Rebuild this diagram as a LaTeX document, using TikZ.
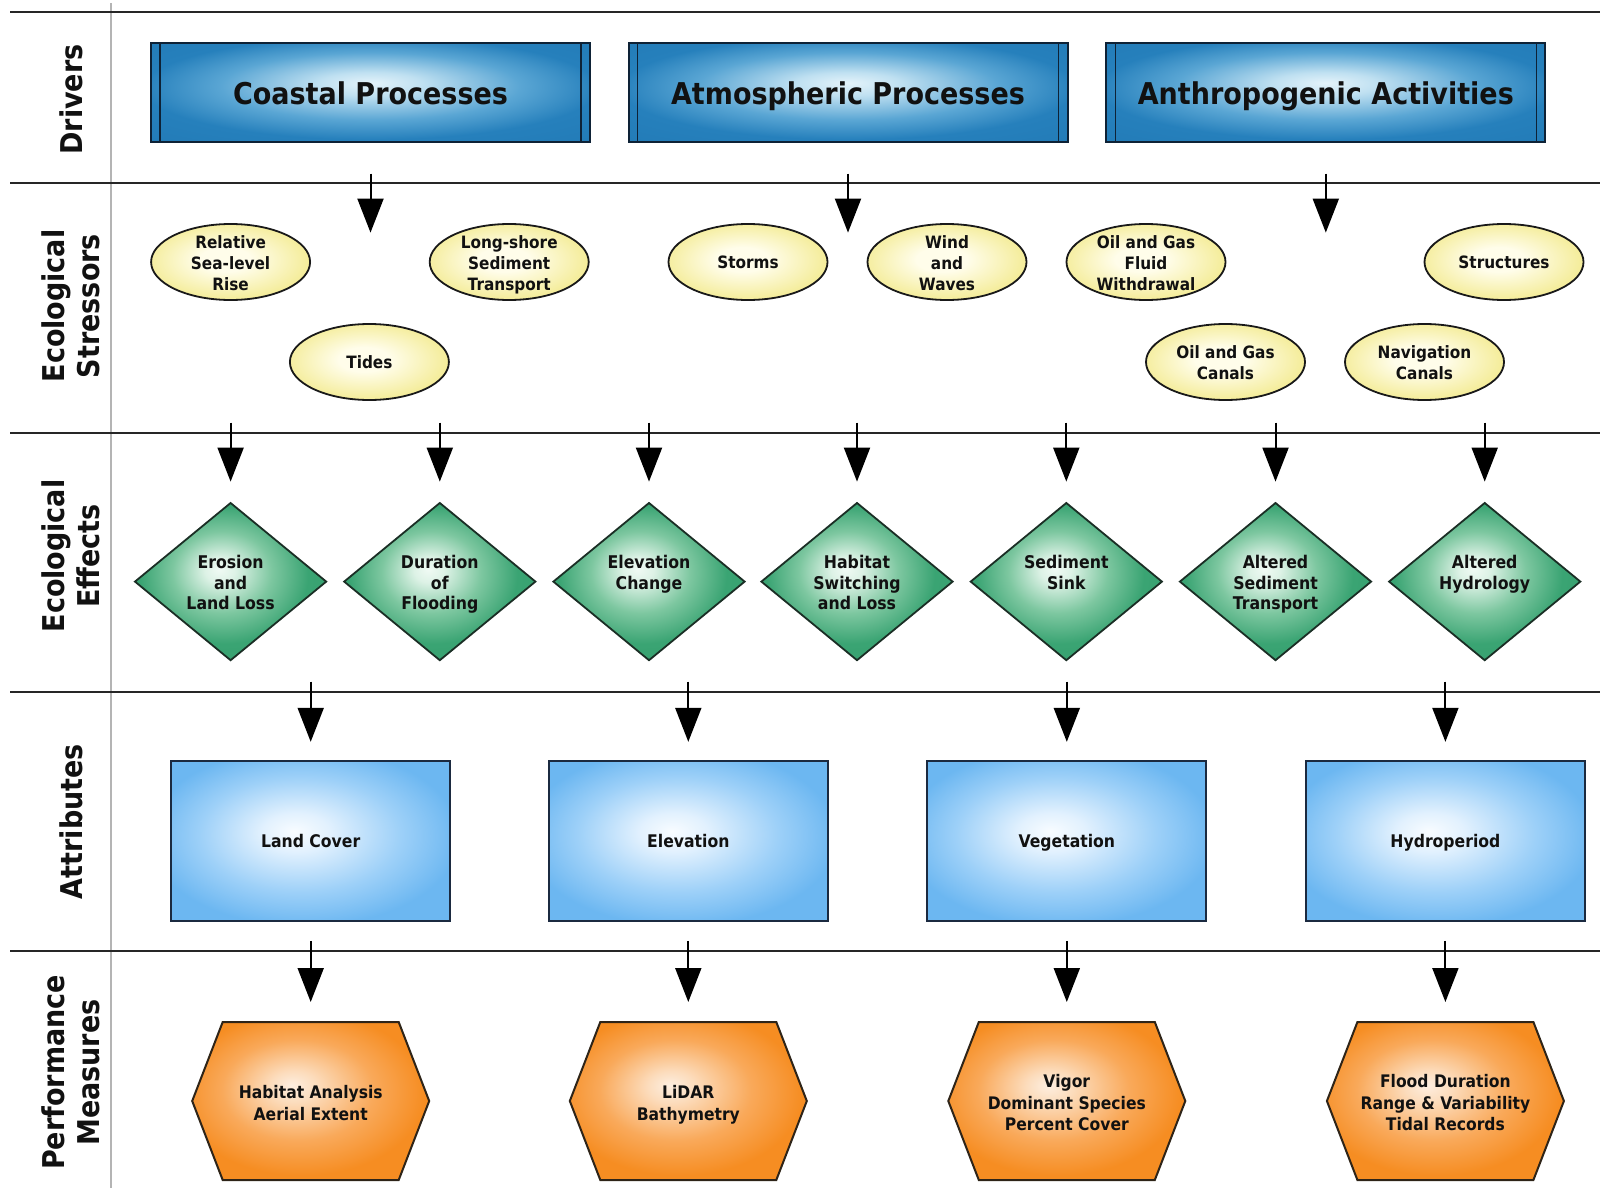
\documentclass[tikz,border=0pt]{standalone}
\usepackage{fontspec}
\setmainfont{DejaVu Sans}[FakeStretch=0.9]
\usetikzlibrary{shapes.geometric,arrows.meta}

\definecolor{txt}{HTML}{111111}
\definecolor{drvIn}{HTML}{E4F3FA}
\definecolor{drvA}{HTML}{BFE0F1}
\definecolor{drvMid}{HTML}{5AA6D4}
\definecolor{drvOut}{HTML}{2680BC}
\definecolor{drvEdge}{HTML}{1E76B2}
\definecolor{drvLine}{HTML}{0E2236}
\definecolor{ellIn}{HTML}{FFFDEA}
\definecolor{ellOut}{HTML}{F4EC98}
\definecolor{dmIn}{HTML}{F0FAF4}
\definecolor{dmA}{HTML}{DDF2E6}
\definecolor{dmMid}{HTML}{7DC7A0}
\definecolor{dmOut}{HTML}{3AA473}
\definecolor{dmEdge}{HTML}{2F9868}
\definecolor{dmLine}{HTML}{1B2E25}
\definecolor{rcIn}{HTML}{F8FCFF}
\definecolor{rcA}{HTML}{E2F1FE}
\definecolor{rcMid}{HTML}{9DD0F8}
\definecolor{rcOut}{HTML}{6CB7F1}
\definecolor{rcLine}{HTML}{1B2A40}
\definecolor{hxIn}{HTML}{FDEEE0}
\definecolor{hxA}{HTML}{FCDCBC}
\definecolor{hxMid}{HTML}{F9A95A}
\definecolor{hxOut}{HTML}{F68D22}
\definecolor{hxLine}{HTML}{2E2418}
\definecolor{sepGray}{HTML}{B4B4B4}

\pgfdeclareradialshading{drvshade}{\pgfpoint{0bp}{5bp}}{color(0bp)=(drvIn); color(6bp)=(drvA); color(17bp)=(drvMid); color(26bp)=(drvOut); color(50bp)=(drvEdge)}
\pgfdeclareradialshading{ellshade}{\pgfpoint{-2bp}{2bp}}{color(0bp)=(ellIn); color(8bp)=(ellIn); color(26bp)=(ellOut); color(50bp)=(ellOut)}
\pgfdeclareradialshading{dmshade}{\pgfpoint{-3bp}{4bp}}{color(0bp)=(dmIn); color(4bp)=(dmA); color(13bp)=(dmMid); color(22bp)=(dmOut); color(50bp)=(dmEdge)}
\pgfdeclareradialshading{rcshade}{\pgfpoint{-3bp}{3bp}}{color(0bp)=(rcIn); color(6bp)=(rcA); color(18bp)=(rcMid); color(28bp)=(rcOut); color(50bp)=(rcOut)}
\pgfdeclareradialshading{hxshade}{\pgfpoint{-4bp}{5bp}}{color(0bp)=(hxIn); color(5bp)=(hxA); color(16bp)=(hxMid); color(26bp)=(hxOut); color(50bp)=(hxOut)}

\newcommand\tup{\rule{0pt}{19pt}}
\newcommand\tuph{\rule{0pt}{21pt}}

\tikzset{
  sepline/.style={draw=black!85, line width=2pt},
  vsep/.style={draw=sepGray, line width=2pt},
  rowlbl/.style={rotate=90, align=center, text=txt, font=\fontsize{30}{35}\selectfont\bfseries, inner sep=0pt},
  driver/.style={rectangle, minimum width=439pt, minimum height=99pt, draw=drvLine, line width=2pt,
    shade, shading=drvshade, text=txt, font=\fontsize{30}{34}\selectfont\bfseries,
    text height=24pt, text depth=0pt},
  drvinner/.style={draw=drvLine, line width=1.4pt},
  stressor/.style={ellipse, minimum width=159pt, minimum height=76pt, inner xsep=0pt, inner ysep=-9pt, draw=black!90,
    line width=1.8pt, shade, shading=ellshade, align=center, text=txt, font=\fontsize{17}{21}\selectfont\bfseries,
    execute at end node={\rule[-4.1pt]{0pt}{4.1pt}}},
  single/.style={text height=12.4pt, text depth=0pt, inner ysep=0pt},
  effect/.style={diamond, aspect=1.2, minimum width=192pt, minimum height=158pt, inner sep=0pt, draw=dmLine,
    line width=1.8pt, shade, shading=dmshade, align=center, text=txt, font=\fontsize{17.5}{20.5}\selectfont\bfseries,
    execute at end node={\rule[-4.2pt]{0pt}{4.2pt}}},
  attrib/.style={rectangle, minimum width=279pt, minimum height=160pt, draw=rcLine, line width=2pt,
    shade, shading=rcshade, text=txt, font=\fontsize{17.4}{21}\selectfont\bfseries,
    text height=12.7pt, text depth=0pt},
  hexfill/.style={draw=hxLine, line width=2pt, line join=miter, shade, shading=hxshade},
  hextext/.style={align=center, inner sep=0pt, text=txt, font=\fontsize{17.3}{21.5}\selectfont\bfseries,
    execute at end node={\rule[-4.4pt]{0pt}{4.4pt}}},
  flow/.style={draw=black, line width=2pt, -{Triangle[width=26pt,length=34pt]}},
}

\newcommand\hexagonnode[3]{%
  \path[hexfill, shift={(#2)}] (-118.5,0) -- (-88,-79) -- (88,-79) -- (118.5,0) -- (88,79) -- (-88,79) -- cycle;
  \node[hextext] (#1) at (#2) {#3};
}

\begin{document}
\begin{tikzpicture}[x=1pt,y=-1pt]
\useasboundingbox (0,0) rectangle (1600,1188);

% separators
\draw[vsep] (111,3) -- (111,1188);
\draw[sepline] (10,12.5) -- (1600,12.5);
\draw[sepline] (10,182.7) -- (1600,182.7);
\draw[sepline] (10,432.6) -- (1600,432.6);
\draw[sepline] (10,691.5) -- (1600,691.5);
\draw[sepline] (10,950.5) -- (1600,950.5);

% row labels
\node[rowlbl] (lDrivers) at (71,99.5) {Drivers};
\node[rowlbl] (lStress) at (71,306) {Ecological\\Stressors};
\node[rowlbl] (lEffects) at (71,556) {Ecological\\Effects};
\node[rowlbl] (lAttr) at (71,821.5) {Attributes};
\node[rowlbl] (lPerf) at (71,1072.5) {Performance\\Measures};

% drivers
\node[driver] (cp) at (370.5,92.7) {Coastal Processes};
\node[driver] (ap) at (848,92.7) {Atmospheric Processes};
\node[driver] (aa) at (1325.8,92.7) {Anthropogenic Activities};
\foreach \n in {cp,ap,aa}{
  \draw[drvinner] ([xshift=10pt]\n.north west) -- ([xshift=10pt]\n.south west);
  \draw[drvinner] ([xshift=-10pt]\n.north east) -- ([xshift=-10pt]\n.south east);
}

% driver arrows
\coordinate (cpS) at (370.5,173.5); \coordinate (cpE) at (370.5,232.6);
\coordinate (apS) at (848,173.5);   \coordinate (apE) at (848,232.6);
\coordinate (aaS) at (1325.8,173.5);\coordinate (aaE) at (1325.8,232.6);
\draw[flow] (cpS) -- (cpE);
\draw[flow] (apS) -- (apE);
\draw[flow] (aaS) -- (aaE);

% stressors
\node[stressor] (rslr) at (230.6,262) {\tup Relative\\Sea-level\\Rise};
\node[stressor] (lsst) at (509.2,262) {\tup Long-shore\\Sediment\\Transport};
\node[stressor, single, execute at end node={}] (tides) at (369.4,362) {Tides};
\node[stressor, single, execute at end node={}] (storms) at (748,262) {Storms};
\node[stressor] (wind) at (947,262) {\tup Wind\\and\\Waves};
\node[stressor] (ogfw) at (1146,262) {\tup Oil and Gas\\Fluid\\Withdrawal};
\node[stressor, single, execute at end node={}] (struct) at (1504,262) {Structures};
\node[stressor] (ogc) at (1225.5,362) {\tup Oil and Gas\\Canals};
\node[stressor] (navc) at (1424.5,362) {\tup Navigation\\Canals};

% effects
\node[effect] (e1) at (230.6,581.6) {\tup Erosion\\and\\Land Loss};
\node[effect] (e2) at (439.8,581.6) {\tup Duration\\of\\Flooding};
\node[effect] (e3) at (649,581.6) {\tup Elevation\\Change\\\mbox{}};
\node[effect] (e4) at (857,581.6) {\tup Habitat\\Switching\\and Loss};
\node[effect] (e5) at (1066.3,581.6) {\tup Sediment\\Sink\\\mbox{}};
\node[effect] (e6) at (1275.5,581.6) {\tup Altered\\Sediment\\Transport};
\node[effect] (e7) at (1484.7,581.6) {\tup Altered\\Hydrology\\\mbox{}};

\foreach \n/\x in {e1/230.6,e2/439.8,e3/649,e4/857,e5/1066.3,e6/1275.5,e7/1484.7}{
  \coordinate (\n S) at (\x,422.5);
  \draw[flow] (\n S) -- (\n.north |- 0,481.6);
}

% attributes
\node[attrib] (lc) at (310.7,840.8) {Land Cover};
\node[attrib] (el) at (688.3,840.8) {Elevation};
\node[attrib] (vg) at (1066.8,840.8) {Vegetation};
\node[attrib] (hp) at (1445.4,840.8) {Hydroperiod};

\foreach \n in {lc,el,vg,hp}{
  \coordinate (\n S) at (\n.north |- 0,681.6);
  \coordinate (\n E) at (\n.north |- 0,741.8);
  \draw[flow] (\n S) -- (\n E);
}

% performance measures
\hexagonnode{pm1}{310.7,1101}{\tuph Habitat Analysis\\Aerial Extent}
\hexagonnode{pm2}{688.3,1101}{\tuph LiDAR\\Bathymetry}
\hexagonnode{pm3}{1066.8,1101}{\tuph Vigor\\Dominant Species\\Percent Cover}
\hexagonnode{pm4}{1445.4,1101}{\tuph Flood Duration\\Range \& Variability\\Tidal Records}

\foreach \n in {pm1,pm2,pm3,pm4}{
  \coordinate (\n S) at (\n |- 0,940.8);
  \coordinate (\n E) at (\n |- 0,1002);
  \draw[flow] (\n S) -- (\n E);
}
\end{tikzpicture}
\end{document}
